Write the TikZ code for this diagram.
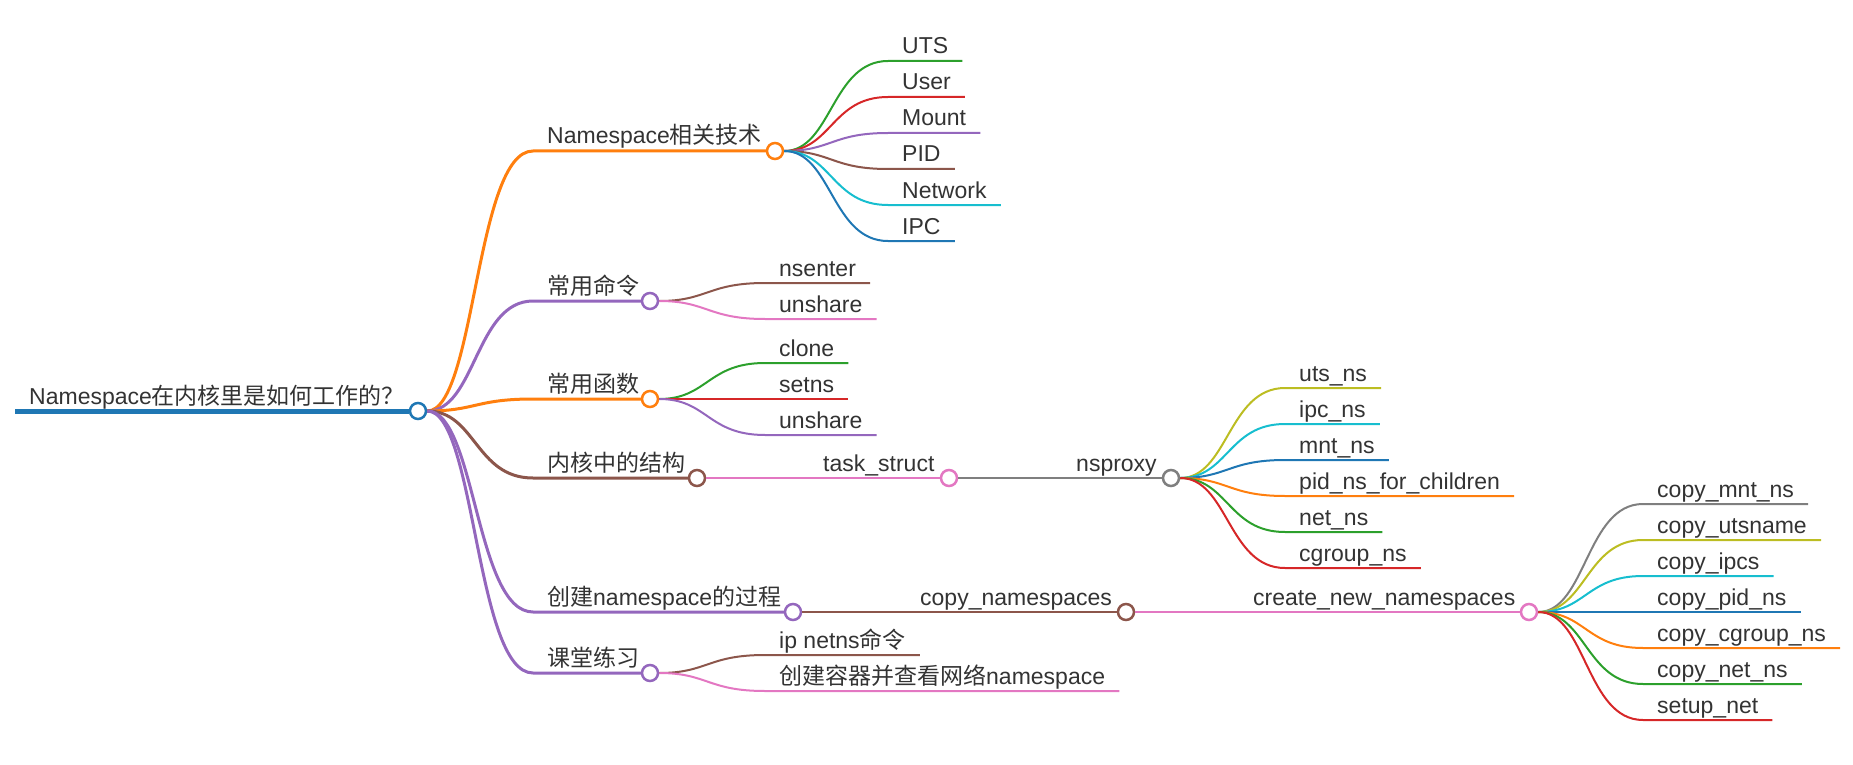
\documentclass[tikz,border=0pt]{standalone}
\usepackage{fontspec}
\setmainfont{Liberation Sans}
\newfontfamily\cjk{Noto Sans CJK SC}
\usetikzlibrary{calc}
\definecolor{cblue}{HTML}{1F77B4}
\definecolor{corange}{HTML}{FF7F0E}
\definecolor{cgreen}{HTML}{2CA02C}
\definecolor{cred}{HTML}{D62728}
\definecolor{cpurple}{HTML}{9467BD}
\definecolor{cbrown}{HTML}{8C564B}
\definecolor{cpink}{HTML}{E377C2}
\definecolor{cgray}{HTML}{7F7F7F}
\definecolor{colive}{HTML}{BCBD22}
\definecolor{ccyan}{HTML}{17BECF}
\definecolor{tcol}{HTML}{333333}
\tikzset{
  txt/.style={anchor=base west, inner xsep=14pt, inner ysep=0pt, text=tcol,
    font=\fontsize{23pt}{27pt}\selectfont},
  dot/.style={circle, fill=white, minimum size=16pt, inner sep=0pt, line width=2.5pt},
  eone/.style={line width=3pt},
  etwo/.style={line width=2pt},
}
% #1 name, #2 parent, #3 end x, #4 y, #5 circle x, #6 colour, #7 text
\newcommand\mmbranch[7]{%
  \coordinate (#1-s) at (#3,#4);
  \coordinate (#1-m) at ($(#2.center)!.5!(#1-s)$);
  \node[txt] (#1) at (#3,#4-7) {#7};
  \node[dot, draw=#6] (#1-c) at (#5,#4) {};
  \draw[eone,#6] (#2.east) .. controls (#1-m |- #2.center) and (#1-m |- #1-s) .. (#1-s) -- (#1-c.west);
}
% #1 name, #2 parent, #3 end x, #4 y, #5 colour, #6 text
\newcommand\mmleaf[6]{%
  \coordinate (#1-s) at (#3,#4);
  \coordinate (#1-m) at ($(#2.center)!.5!(#1-s)$);
  \node[txt] (#1) at (#3,#4-7) {#6};
  \draw[etwo,#5] (#2.east) .. controls (#1-m |- #2.center) and (#1-m |- #1-s) .. (#1-s) -- (#1-s -| #1.east);
}
% #1 name, #2 parent, #3 text x, #4 y, #5 circle x, #6 colour, #7 text
\newcommand\mmchain[7]{%
  \node[txt] (#1) at (#3-14,#4-7) {#7};
  \node[dot, draw=#6] (#1-c) at (#5,#4) {};
  \draw[etwo,#6] (#2.east) -- (#1-c.west);
}
\begin{document}
\begin{tikzpicture}[x=1pt,y=-1pt]
\useasboundingbox (0,0) rectangle (1853,765);
% root
\coordinate (root-s) at (15,411);
\node[txt] (root) at (15,404) {Namespace{\cjk 在内核里是如何工作的？}};
\node[dot, draw=cblue] (root-c) at (418,411) {};
\draw[line width=5pt, cblue] (root-s) -- (root-c.west);
% level 1
\mmbranch{nst}{root-c}{533}{151}{775}{corange}{Namespace{\cjk 相关技术}}
\mmbranch{cmd}{root-c}{533}{301}{650}{cpurple}{{\cjk 常用命令}}
\mmbranch{fn}{root-c}{533}{399}{650}{corange}{{\cjk 常用函数}}
\mmbranch{ks}{root-c}{533}{478}{697}{cbrown}{{\cjk 内核中的结构}}
\mmbranch{cp}{root-c}{533}{612}{793}{cpurple}{{\cjk 创建}namespace{\cjk 的过程}}
\mmbranch{ex}{root-c}{533}{673}{650}{cpurple}{{\cjk 课堂练习}}
% Namespace tech
\mmleaf{uts}{nst-c}{888}{61}{cgreen}{UTS}
\mmleaf{user}{nst-c}{888}{97}{cred}{User}
\mmleaf{mount}{nst-c}{888}{133}{cpurple}{Mount}
\mmleaf{pid}{nst-c}{888}{169}{cbrown}{PID}
\mmleaf{network}{nst-c}{888}{205}{ccyan}{Network}
\mmleaf{ipc}{nst-c}{888}{241}{cblue}{IPC}
% commands
\mmleaf{nsenter}{cmd-c}{765}{283}{cbrown}{nsenter}
\mmleaf{unsharea}{cmd-c}{765}{319}{cpink}{unshare}
% functions
\mmleaf{clone}{fn-c}{765}{363}{cgreen}{clone}
\mmleaf{setns}{fn-c}{765}{399}{cred}{setns}
\mmleaf{unshareb}{fn-c}{765}{435}{cpurple}{unshare}
% exercise
\mmleaf{ipnetns}{ex-c}{765}{655}{cbrown}{ip netns{\cjk 命令}}
\mmleaf{ctr}{ex-c}{765}{691}{cpink}{{\cjk 创建容器并查看网络}namespace}
% kernel structures
\mmchain{ts}{ks-c}{823}{478}{949}{cpink}{task\_struct}
\mmchain{nsp}{ts-c}{1076}{478}{1171}{cgray}{nsproxy}
\mmleaf{utsns}{nsp-c}{1285}{388}{colive}{uts\_ns}
\mmleaf{ipcns}{nsp-c}{1285}{424}{ccyan}{ipc\_ns}
\mmleaf{mntns}{nsp-c}{1285}{460}{cblue}{mnt\_ns}
\mmleaf{pidns}{nsp-c}{1285}{496}{corange}{pid\_ns\_for\_children}
\mmleaf{netns}{nsp-c}{1285}{532}{cgreen}{net\_ns}
\mmleaf{cgns}{nsp-c}{1285}{568}{cred}{cgroup\_ns}
% create process
\mmchain{cns}{cp-c}{920}{612}{1126}{cbrown}{copy\_namespaces}
\mmchain{cnn}{cns-c}{1253}{612}{1529}{cpink}{create\_new\_namespaces}
\mmleaf{cmnt}{cnn-c}{1643}{504}{cgray}{copy\_mnt\_ns}
\mmleaf{cuts}{cnn-c}{1643}{540}{colive}{copy\_utsname}
\mmleaf{cipc}{cnn-c}{1643}{576}{ccyan}{copy\_ipcs}
\mmleaf{cpid}{cnn-c}{1643}{612}{cblue}{copy\_pid\_ns}
\mmleaf{ccg}{cnn-c}{1643}{648}{corange}{copy\_cgroup\_ns}
\mmleaf{cnet}{cnn-c}{1643}{684}{cgreen}{copy\_net\_ns}
\mmleaf{csetup}{cnn-c}{1643}{720}{cred}{setup\_net}
\end{tikzpicture}
\end{document}
